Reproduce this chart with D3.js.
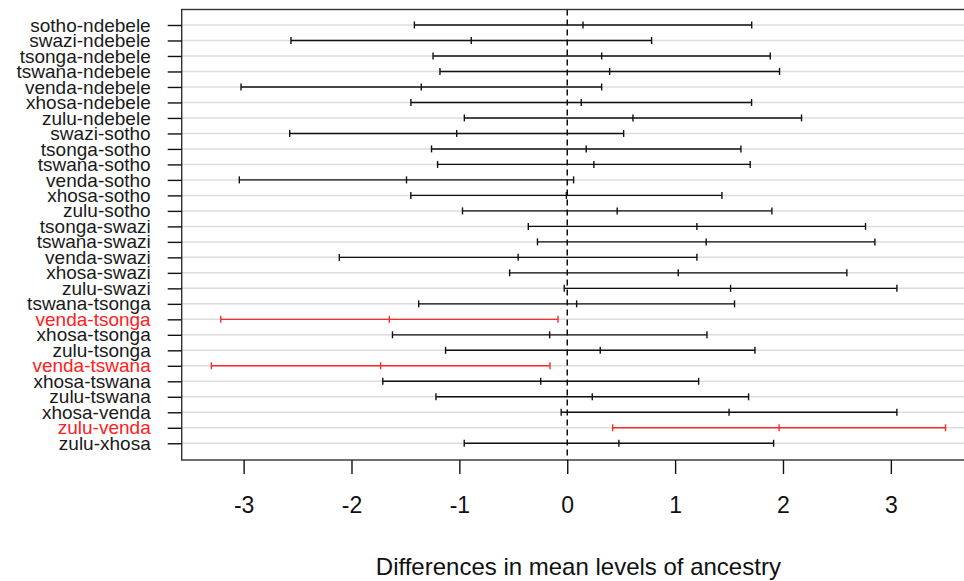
<!DOCTYPE html>
<html>
<head>
<meta charset="utf-8">
<script src="https://cdn.jsdelivr.net/npm/d3@7"></script>
<style>
  body { margin: 0; background: #fff; }
  svg { display: block; font-family: "Liberation Sans", Arial, sans-serif; }
</style>
</head>
<body>
<svg id="chart" width="964" height="581"></svg>
<script>
const comparisons = [
  'sotho-ndebele', 'swazi-ndebele', 'tsonga-ndebele', 'tswana-ndebele', 'venda-ndebele',
  'xhosa-ndebele', 'zulu-ndebele', 'swazi-sotho', 'tsonga-sotho', 'tswana-sotho',
  'venda-sotho', 'xhosa-sotho', 'zulu-sotho', 'tsonga-swazi', 'tswana-swazi',
  'venda-swazi', 'xhosa-swazi', 'zulu-swazi', 'tswana-tsonga', 'venda-tsonga',
  'xhosa-tsonga', 'zulu-tsonga', 'venda-tswana', 'xhosa-tswana', 'zulu-tswana',
  'xhosa-venda', 'zulu-venda', 'zulu-xhosa'
];
const diffs = [
  0.146, -0.890, 0.319, 0.393, -1.353, 0.130, 0.609, -1.025, 0.176, 0.247,
  -1.490, -0.008, 0.463, 1.202, 1.288, -0.455, 1.029, 1.514, 0.087, -1.649,
  -0.163, 0.306, -1.730, -0.246, 0.232, 1.500, 1.964, 0.479
];
const lowers = [
  -1.417, -2.561, -1.244, -1.180, -3.024, -1.449, -0.954, -2.573, -1.258, -1.202,
  -3.040, -1.450, -0.971, -0.361, -0.276, -2.113, -0.534, -0.028, -1.377, -3.212,
  -1.620, -1.128, -3.299, -1.710, -1.217, -0.056, 0.421, -0.955
];
const uppers = [
  1.710, 0.782, 1.882, 1.968, 0.319, 1.709, 2.172, 0.523, 1.610, 1.696,
  0.059, 1.434, 1.897, 2.765, 2.852, 1.202, 2.592, 3.056, 1.551, -0.086,
  1.295, 1.740, -0.160, 1.218, 1.681, 3.056, 3.507, 1.913
];
const xTicks = [-3, -2, -1, 0, 1, 2, 3];

const rows = comparisons.map((name, i) => ({
  name, diff: diffs[i], lwr: lowers[i], upr: uppers[i],
  signif: lowers[i] > 0 || uppers[i] < 0
}));

const svg = d3.select('#chart');
const plotL = 181.7, plotR = 975, plotT = 9.5, plotB = 460;

const x = d3.scaleLinear().domain([-3.574, 3.78]).range([plotL, plotR]);
const y = d3.scaleLinear().domain([-1, comparisons.length + 0.08]).range([plotT, plotB]);

// horizontal grid lines
svg.append('g')
  .selectAll('line')
  .data(rows)
  .enter()
  .append('line')
  .attr('x1', plotL).attr('x2', 964)
  .attr('y1', (d, i) => y(i)).attr('y2', (d, i) => y(i))
  .attr('stroke', '#dcdcdc')
  .attr('stroke-width', 1.5);

// dashed zero line
svg.append('line')
  .attr('x1', x(0)).attr('x2', x(0))
  .attr('y1', plotT).attr('y2', plotB)
  .attr('stroke', '#000')
  .attr('stroke-width', 1.4)
  .attr('stroke-dasharray', '6,4');

// intervals
const bars = svg.append('g')
  .selectAll('g')
  .data(rows)
  .enter()
  .append('g')
  .attr('transform', (d, i) => `translate(0, ${y(i)})`)
  .attr('stroke', d => d.signif ? '#ff2a2a' : '#111')
  .attr('stroke-width', 1.4);

bars.append('line')
  .attr('x1', d => x(d.lwr)).attr('x2', d => x(d.upr));

['lwr', 'diff', 'upr'].forEach(k => {
  bars.append('line')
    .attr('x1', d => x(d[k])).attr('x2', d => x(d[k]))
    .attr('y1', -3.5).attr('y2', 3.5);
});

// box
svg.append('rect')
  .attr('x', plotL).attr('y', plotT)
  .attr('width', plotR - plotL).attr('height', plotB - plotT)
  .attr('fill', 'none')
  .attr('stroke', '#333')
  .attr('stroke-width', 1.4);

// x axis
const xAxis = svg.append('g')
  .attr('transform', `translate(0, ${plotB})`)
  .call(d3.axisBottom(x).tickValues(xTicks).tickSize(14).tickSizeOuter(0).tickFormat(d3.format('d')));
xAxis.select('.domain').remove();
xAxis.selectAll('.tick line').attr('stroke', '#111').attr('stroke-width', 1.4);
xAxis.selectAll('.tick text')
  .attr('y', 53)
  .attr('dy', null)
  .attr('font-size', 23)
  .attr('font-family', '"Liberation Sans", Arial, sans-serif')
  .attr('fill', '#111')
  .text(d => d < 0 ? '-' + Math.abs(d) : d);

// y axis
const yAxis = svg.append('g')
  .attr('transform', `translate(${plotL}, 0)`)
  .call(d3.axisLeft(y).tickValues(d3.range(comparisons.length)).tickSize(14).tickSizeOuter(0)
    .tickFormat(i => comparisons[i]));
yAxis.select('.domain').remove();
yAxis.selectAll('.tick line').attr('stroke', '#111').attr('stroke-width', 1.4);
yAxis.selectAll('.tick text')
  .attr('x', -31)
  .attr('font-size', 19)
  .attr('font-family', '"Liberation Sans", Arial, sans-serif')
  .attr('fill', i => rows[i].signif ? '#ff2020' : '#1a1a1a');

// x label
svg.append('text')
  .attr('x', (plotL + plotR) / 2)
  .attr('y', 575)
  .attr('text-anchor', 'middle')
  .attr('font-size', 24)
  .attr('fill', '#111')
  .text('Differences in mean levels of ancestry');
</script>
</body>
</html>
